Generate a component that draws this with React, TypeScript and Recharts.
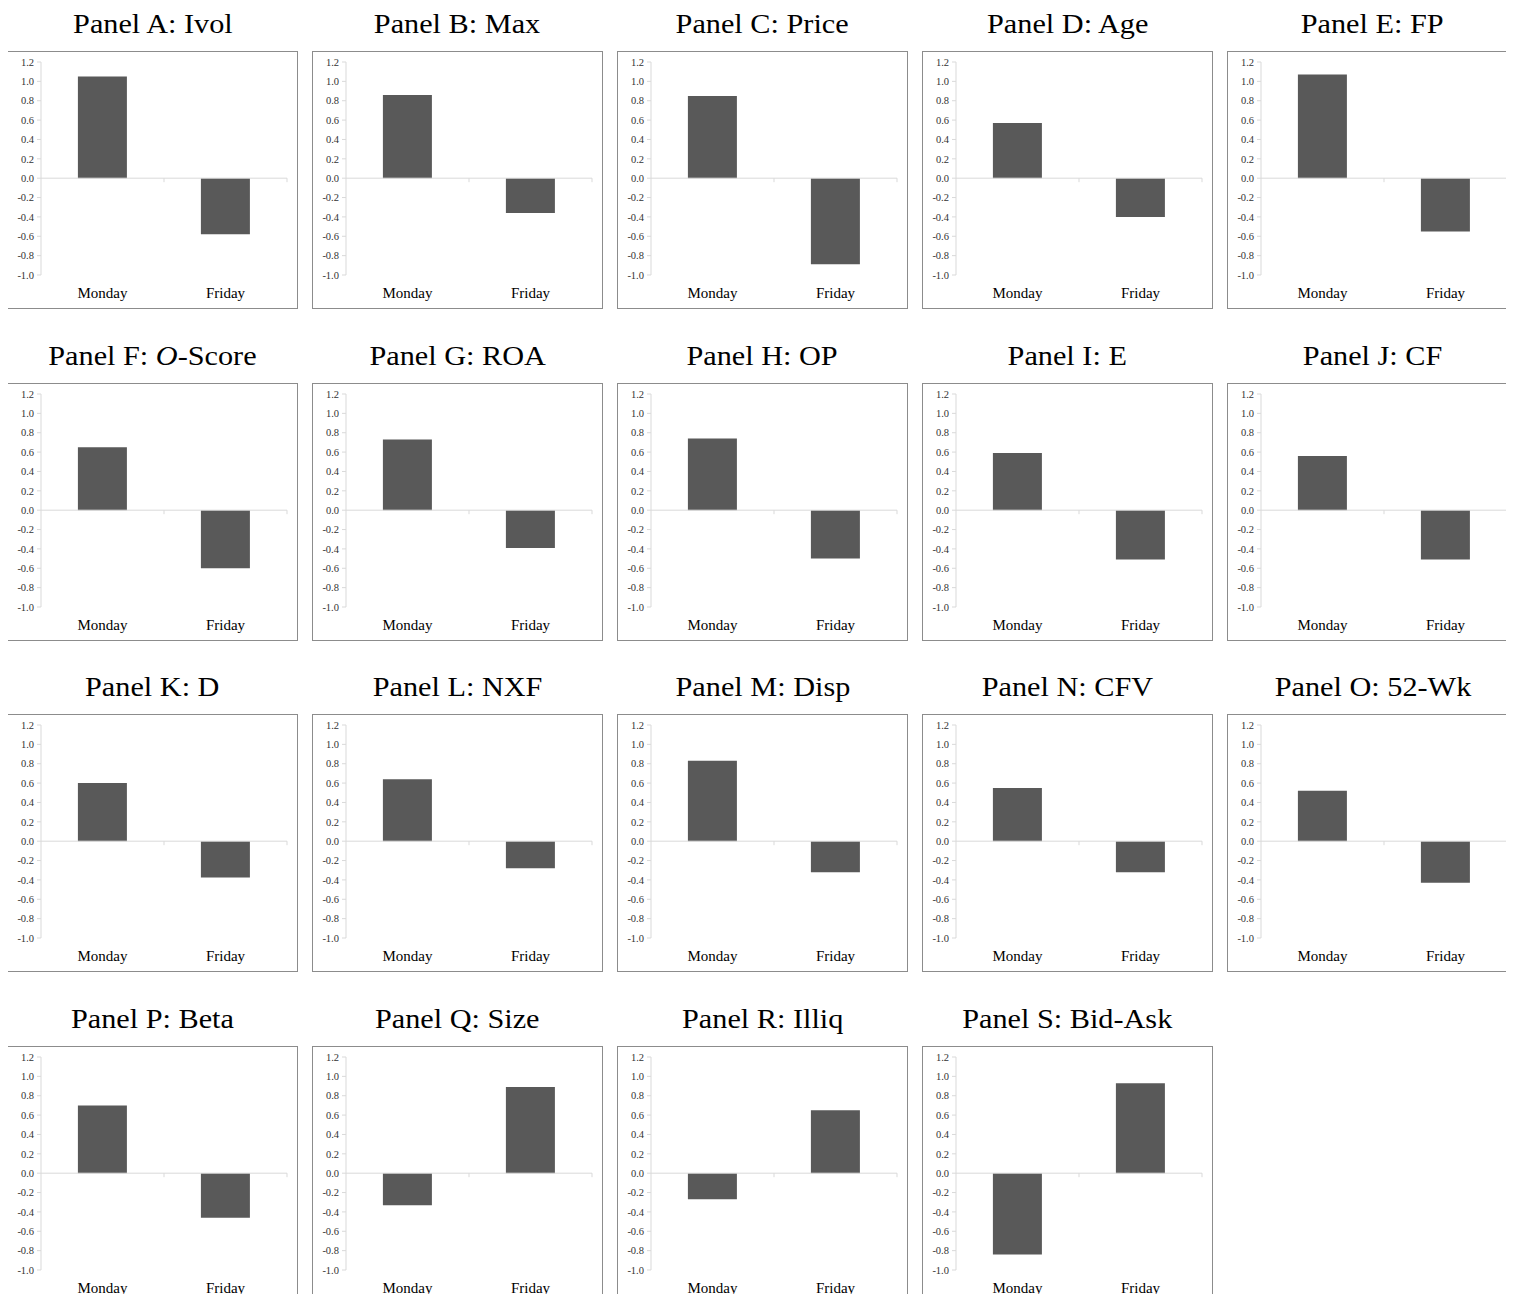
import React from 'react';
import { BarChart, Bar, XAxis, YAxis, ReferenceLine } from 'recharts';

// categories and tick values
const days = ['Monday', 'Friday'];
const yTicks = [-1.0, -0.8, -0.6, -0.4, -0.2, 0.0, 0.2, 0.4, 0.6, 0.8, 1.0, 1.2];

// panel labels
const letters = ['A', 'B', 'C', 'D', 'E', 'F', 'G', 'H', 'I', 'J', 'K', 'L', 'M', 'N', 'O', 'P', 'Q', 'R', 'S'];
const names = ['Ivol', 'Max', 'Price', 'Age', 'FP', 'O-Score', 'ROA', 'OP', 'E', 'CF', 'D', 'NXF', 'Disp', 'CFV', '52-Wk', 'Beta', 'Size', 'Illiq', 'Bid-Ask'];

// values
const mondayVals = [1.05, 0.86, 0.85, 0.57, 1.07, 0.65, 0.73, 0.74, 0.59, 0.56, 0.6, 0.64, 0.83, 0.55, 0.52, 0.7, -0.33, -0.27, -0.84];
const fridayVals = [-0.58, -0.36, -0.89, -0.4, -0.55, -0.6, -0.39, -0.5, -0.51, -0.51, -0.375, -0.28, -0.32, -0.32, -0.43, -0.46, 0.89, 0.65, 0.93];

const FONT = '"Liberation Serif", "Times New Roman", serif';
const AXIS = '#d9d9d9';
const BAR = '#595959';

const BOX_W = 291;
const BOX_H = 258;
const COL_STEP = 305;
const ROW_STEP = 331.7;

function ZeroLine(props: any) {
  const { x1, y1, x2, y2 } = props;
  const mid = (x1 + x2) / 2;
  return (
    <g>
      <line x1={x1} y1={y1} x2={x2} y2={y2} stroke={AXIS} strokeWidth={1} />
      <line x1={mid} y1={y1} x2={mid} y2={y1 + 4} stroke={AXIS} strokeWidth={1} />
      <line x1={x2} y1={y1} x2={x2} y2={y1 + 4} stroke={AXIS} strokeWidth={1} />
    </g>
  );
}

function Panel({ idx }: { idx: number }) {
  const col = idx % 5;
  const row = Math.floor(idx / 5);
  const left = 7 + col * COL_STEP;
  const top = 51 + Math.round(row * ROW_STEP);
  const data = days.map((d, i) => ({ day: d, value: i === 0 ? mondayVals[idx] : fridayVals[idx] }));
  const name = names[idx];

  return (
    <>
      <div
        style={{
          position: 'absolute',
          left: left - 40,
          width: BOX_W + 80,
          top: top - 41,
          height: 28,
          lineHeight: '28px',
          fontFamily: FONT,
          fontSize: 28,
          textAlign: 'center',
          color: '#000',
          whiteSpace: 'nowrap',
        }}
      >
        <span style={{ display: 'inline-block', transform: 'scaleX(1.08)' }}>
          Panel {letters[idx]}:{' '}
          {name === 'O-Score' ? (
            <>
              <i>O</i>-Score
            </>
          ) : (
            name
          )}
        </span>
      </div>
      <div
        style={{
          position: 'absolute',
          left,
          top,
          width: BOX_W - 2,
          height: BOX_H - 2,
          border: '1px solid #8c8c8c',
          background: '#fff',
        }}
      >
        <BarChart
          width={BOX_W - 2}
          height={BOX_H - 2}
          data={data}
          margin={{ top: 10, right: 10, left: 0, bottom: 0 }}
          barCategoryGap="30%"
        >
          <XAxis
            dataKey="day"
            axisLine={false}
            tickLine={false}
            tickSize={0}
            tickMargin={12}
            height={33}
            tick={{ fontFamily: FONT, fontSize: 15, fill: '#000' }}
          />
          <YAxis
            domain={[-1, 1.2]}
            ticks={yTicks}
            interval={0}
            width={33}
            allowDataOverflow
            axisLine={{ stroke: AXIS }}
            tickLine={{ stroke: AXIS }}
            tickSize={4}
            tickMargin={3}
            tickFormatter={(v: number) => v.toFixed(1)}
            tick={{ fontFamily: FONT, fontSize: 10.5, fill: '#333' }}
          />
          <ReferenceLine y={0} shape={<ZeroLine />} />
          <Bar dataKey="value" fill={BAR} isAnimationActive={false} />
        </BarChart>
      </div>
    </>
  );
}

export default function App() {
  return (
    <div
      style={{
        position: 'relative',
        width: 1514,
        height: 1302,
        margin: -8,
        overflow: 'hidden',
        background: '#fff',
      }}
    >
      {names.map((_, i) => (
        <Panel key={i} idx={i} />
      ))}
    </div>
  );
}
